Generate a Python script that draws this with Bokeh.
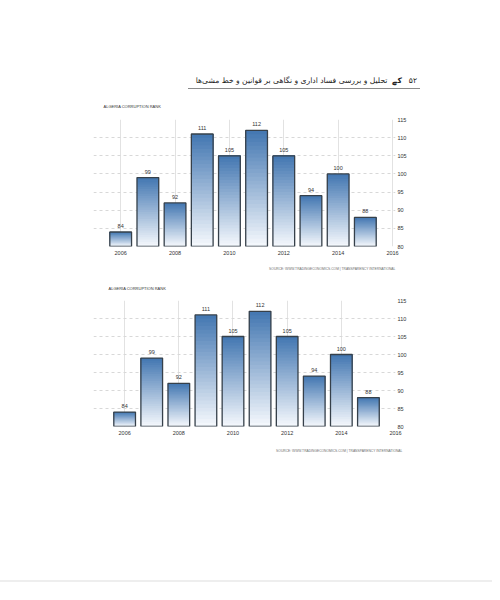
from bokeh.plotting import figure
from bokeh.models import Range1d, FixedTicker, ColumnDataSource, Title, Div
from bokeh.layouts import column
from bokeh.embed import file_html
from bokeh.resources import INLINE
from bokeh.core.properties import value

# ---- data ----
years = [2006, 2007, 2008, 2009, 2010, 2011, 2012, 2013, 2014, 2015]
ranks = [84, 99, 92, 111, 105, 112, 105, 94, 100, 88]
x_ticks = [2006, 2008, 2010, 2012, 2014, 2016]
y_ticks = [80, 85, 90, 95, 100, 105, 110, 115]
chart_title = "ALGERIA CORRUPTION RANK"
source_note = "SOURCE: WWW.TRADINGECONOMICS.COM | TRANSPARENCY INTERNATIONAL"
page_number = "۵۲"
page_mark = "کے"
page_header = "تحلیل و بررسی فساد اداری و نگاهی بر قوانین و خط مشی‌ها"

FONT = "Liberation Sans"
W = 484

TOP_RGB = (66, 118, 177)
BOT_RGB = (246, 249, 253)
N_SLICES = 30


def mix(t):
    r = [round(BOT_RGB[i] + (TOP_RGB[i] - BOT_RGB[i]) * t) for i in range(3)]
    return "#%02x%02x%02x" % tuple(r)


header = Div(
    width=W, height=93, margin=0,
    text=(
        '<div style="padding-top:73px;">'
        '<div style="margin-left:188px;width:232px;padding-right:3px;height:16px;'
        'line-height:16px;border-bottom:1.5px solid #8a8a8a;direction:rtl;text-align:right;'
        'white-space:nowrap;font-family:\'DejaVu Sans\';font-size:7.6px;color:#222;">'
        f'<span style="margin-left:7px;">{page_number}</span>'
        f'<span style="margin-left:5px;font-weight:bold;">{page_mark}</span>'
        f'<span>{page_header}</span>'
        '</div></div>'
    ),
)


def chart(x_start, x_end, top, frame_h, bottom, title_off, title_so, src_off, src_so):
    p = figure(width=W, height=top + frame_h + bottom,
               x_range=Range1d(x_start, x_end), y_range=Range1d(80, 115),
               y_axis_location="right", toolbar_location=None, output_backend="svg",
               min_border_left=93, min_border_right=W - 395,
               min_border_top=top, min_border_bottom=bottom,
               outline_line_color=None, background_fill_color="white",
               border_fill_color="white")
    # grids
    p.xgrid.ticker = FixedTicker(ticks=x_ticks)
    p.xgrid.grid_line_color = "#e2e2e2"
    p.ygrid.ticker = FixedTicker(ticks=y_ticks)
    p.ygrid.grid_line_color = "#d8d8d8"
    p.ygrid.grid_line_dash = "3 3"
    # axes
    for ax in (p.xaxis[0], p.yaxis[0]):
        ax.axis_line_color = None
        ax.major_tick_line_color = None
        ax.minor_tick_line_color = None
        ax.major_tick_out = 0
        ax.major_tick_in = 0
        ax.minor_tick_out = 0
        ax.major_label_text_font = FONT
        ax.major_label_text_font_size = "5.5px"
        ax.major_label_text_color = "#333333"
    p.xaxis.ticker = FixedTicker(ticks=x_ticks)
    p.yaxis.ticker = FixedTicker(ticks=y_ticks)
    p.xaxis.major_label_standoff = 4
    p.yaxis.major_label_standoff = 2

    # gradient bars built from the data values (overlapping slices, bottom first)
    xs, bots, tops, cols = [], [], [], []
    for k in range(N_SLICES):
        for yr, v in zip(years, ranks):
            xs.append(yr)
            bots.append(80 + (v - 80) * k / N_SLICES)
            tops.append(v)
            cols.append(mix((k + 0.5) / N_SLICES))
    p.vbar(x=xs, bottom=bots, top=tops, width=0.8, fill_color=cols, line_color=None)
    p.vbar(x=years, bottom=80, top=ranks, width=0.8, fill_color=None,
           line_color="#36404a", line_width=1.3)

    src = ColumnDataSource(dict(x=years, y=ranks, t=[str(v) for v in ranks]))
    p.text(x="x", y="y", text="t", source=src, text_align="center", text_baseline="bottom",
           y_offset=-4, text_font_size="5.5px", text_font=value(FONT), text_color="#333333")

    p.add_layout(Title(text=source_note, align="right", offset=src_off, standoff=src_so,
                       vertical_align="bottom",
                       text_font=FONT, text_font_size="3.3px", text_color="#6d6d6d",
                       text_font_style="normal"), "below")
    p.add_layout(Title(text=chart_title, align="left", offset=title_off, standoff=title_so,
                       vertical_align="top",
                       text_font=FONT, text_font_size="4px", text_color="#333333",
                       text_font_style="normal"), "above")
    return p


c1 = chart(2005, 2016.11, 26, 127, 32, 10, 17.4, 0, 15.6)
c2 = chart(2004.85, 2016, 22, 126, 36, 15, 15.4, -7, 19.6)

footer = Div(
    width=492, height=130, margin=0,
    text='<div style="height:118px;"></div><div style="width:492px;border-top:2.5px solid #eeeeee;"></div>',
)

layout = column(header, c1, c2, footer, spacing=0)

open("out.html", "w").write(file_html(layout, INLINE))
